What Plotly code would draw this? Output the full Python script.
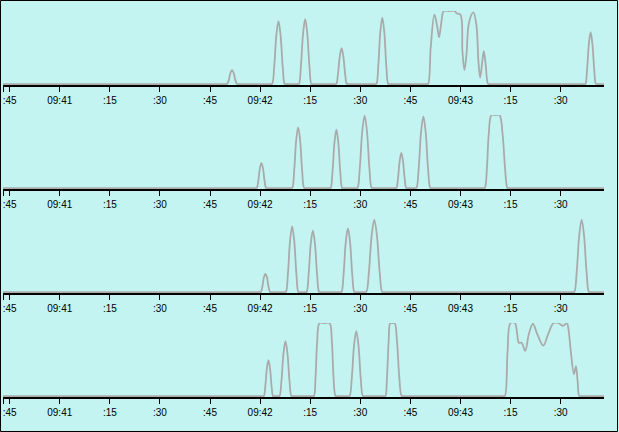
import pandas as pd
import plotly.graph_objects as go

# ---------------- data (seconds relative to 09:42:00, value in % of panel scale) ----------------
BASE = "2024-01-01 09:42:00"
range_start_s = -77
range_end_s = 103

tick_seconds = [-75, -60, -45, -30, -15, 0, 15, 30, 45, 60, 75, 90]
tick_labels = [":45", "09:41", ":15", ":30", ":45", "09:42", ":15", ":30", ":45", "09:43", ":15", ":30"]

s1_t = [-77,
        -10.4, -9.9, -9.4, -8.9, -8.4, -7.9, -7.4, -6.9, -6.4,
        3.1, 3.6, 4.23, 4.87, 5.5, 6.13, 6.77, 7.4, 7.9,
        11.1, 11.6, 12.23, 12.87, 13.5, 14.13, 14.77, 15.4, 15.9,
        22.3, 22.8, 23.33, 23.87, 24.4, 24.93, 25.47, 26.0, 26.5,
        34.3, 34.8, 35.4, 36.0, 36.6, 37.2, 37.8, 38.4, 38.9,
        49.8, 50.3, 51.1, 52.2, 53.0, 53.6, 54.3, 55.0, 56.7, 58.3, 58.8, 60.0, 60.6, 61.2, 61.8, 62.6,
        63.9, 64.8, 65.4, 65.9, 66.4, 67.0, 67.6, 68.3, 68.9,
        96.9, 97.4, 97.93, 98.47, 99.0, 99.53, 100.07, 100.6, 101.1,
        103]
s1_v = [0,
        0, 0, 5, 15, 19, 15, 5, 0, 0,
        0, 0, 24, 67, 86, 67, 24, 0, 0,
        0, 0, 25, 69, 89, 69, 25, 0, 0,
        0, 0, 14, 38, 49, 38, 14, 0, 0,
        0, 0, 25, 71, 91, 71, 25, 0, 0,
        0, 0, 50, 95, 80, 64, 85, 100, 100, 100, 97, 95, 45, 19, 40, 85,
        98, 80, 30, 9, 25, 45, 25, 0, 0,
        0, 0, 20, 55, 71, 55, 20, 0, 0,
        0]

s2_t = [-77,
        -1.5, -1.0, -0.53, -0.07, 0.4, 0.87, 1.33, 1.8, 2.3,
        9.1, 9.6, 10.2, 10.8, 11.4, 12.0, 12.6, 13.2, 13.7,
        20.6, 21.1, 21.68, 22.27, 22.85, 23.43, 24.02, 24.6, 25.1,
        28.65, 29.15, 29.87, 30.58, 31.3, 32.02, 32.73, 33.45, 33.95,
        40.3, 40.8, 41.3, 41.8, 42.3, 42.8, 43.3, 43.8, 44.3,
        46.3, 46.8, 47.5, 48.2, 48.9, 49.6, 50.3, 51.0, 51.5,
        66.8, 67.3, 67.9, 68.5, 69.3, 70.5, 71.7, 72.6, 73.4, 74.1, 74.6,
        103]
s2_v = [0,
        0, 0, 10, 27, 34, 27, 10, 0, 0,
        0, 0, 23, 65, 83, 65, 23, 0, 0,
        0, 0, 22, 62, 80, 62, 22, 0, 0,
        0, 0, 28, 77, 99, 77, 28, 0, 0,
        0, 0, 13, 37, 48, 37, 13, 0, 0,
        0, 0, 27, 76, 98, 76, 27, 0, 0,
        0, 0, 25, 75, 100, 100, 100, 75, 25, 0, 0,
        0]

s3_t = [-77,
        -0.3, 0.2, 0.67, 1.13, 1.6, 2.07, 2.53, 3.0, 3.5,
        7.2, 7.7, 8.33, 8.97, 9.6, 10.23, 10.87, 11.5, 12.0,
        13.4, 13.9, 14.53, 15.17, 15.8, 16.43, 17.07, 17.7, 18.2,
        23.85, 24.35, 25.0, 25.65, 26.3, 26.95, 27.6, 28.25, 28.75,
        31.3, 31.8, 32.6, 33.4, 34.2, 35.0, 35.8, 36.6, 37.1,
        93.6, 94.1, 94.83, 95.57, 96.3, 97.03, 97.77, 98.5, 99.0,
        103]
s3_v = [0,
        0, 0, 7, 20, 25, 20, 7, 0, 0,
        0, 0, 25, 70, 90, 70, 25, 0, 0,
        0, 0, 24, 66, 84, 66, 24, 0, 0,
        0, 0, 24, 68, 87, 68, 24, 0, 0,
        0, 0, 28, 77, 99, 77, 28, 0, 0,
        0, 0, 28, 77, 99, 77, 28, 0, 0,
        0]

s4_t = [-77,
        0.6, 1.1, 1.57, 2.03, 2.5, 2.97, 3.43, 3.9, 4.4,
        5.3, 5.8, 6.4, 7.0, 7.6, 8.2, 8.8, 9.4, 9.9,
        15.6, 16.1, 16.6, 17.1, 17.8, 19.3, 20.8, 21.5, 22.0, 22.6, 23.1,
        26.3, 26.8, 27.47, 28.13, 28.8, 29.47, 30.13, 30.8, 31.3,
        37.0, 37.5, 38.0, 38.5, 39.0, 39.65, 40.3, 41.0, 41.7, 42.4, 42.9,
        72.8, 73.3, 74.1, 75.0, 76.3, 77.0, 77.5, 78.3, 79.4, 80.5, 81.7, 83.0, 84.8, 86.3,
        87.9, 89.3, 90.7, 91.3, 91.9, 92.4, 93.0, 94.0, 94.6, 95.1, 95.6, 96.2,
        103]
s4_v = [0,
        0, 0, 14, 38, 49, 38, 14, 0, 0,
        0, 0, 21, 58, 75, 58, 21, 0, 0,
        0, 0, 25, 75, 100, 100, 100, 75, 25, 0, 0,
        0, 0, 25, 69, 89, 69, 25, 0, 0,
        0, 0, 25, 75, 100, 100, 100, 75, 25, 0, 0,
        0, 0, 60, 100, 100, 85, 73, 73, 62, 85, 99, 85, 69, 85,
        100, 100, 96, 98, 100, 90, 64, 30, 41, 20, 0, 0,
        0]

series = [(s1_t, s1_v), (s2_t, s2_v), (s3_t, s3_v), (s4_t, s4_v)]

# ---------------- layout geometry (pixels) ----------------
W, H = 619, 432
ML, MR, MT, MB = 3, 15, 11, 35
panel_tops = [11, 115, 219, 323]
panel_bottoms = [85, 189, 293, 397]
plot_h = H - MT - MB
plot_w = W - ML - MR

BG = "#c3f4f2"
LINE = "#aaaaaa"

base = pd.Timestamp(BASE)
def to_time(secs):
    return [base + pd.Timedelta(seconds=s) for s in secs]

fig = go.Figure()
layout = dict(
    width=W, height=H,
    margin=dict(l=ML, r=MR, t=MT, b=MB, autoexpand=False),
    paper_bgcolor=BG, plot_bgcolor=BG,
    showlegend=False,
    font=dict(family="Liberation Sans, Arial, sans-serif", size=10, color="black"),
)

for i, (ts, vs) in enumerate(series):
    n = "" if i == 0 else str(i + 1)
    fig.add_trace(go.Scatter(
        x=to_time(ts), y=vs, mode="lines",
        line=dict(color=LINE, width=1.8, shape="spline", smoothing=1.0),
        xaxis="x" + n, yaxis="y" + n, hoverinfo="skip",
    ))
    d0 = (H - MB - panel_bottoms[i]) / plot_h
    d1 = (H - MB - panel_tops[i]) / plot_h
    layout["xaxis" + n] = dict(
        domain=[0, 1], anchor="y" + n,
        range=[base + pd.Timedelta(seconds=range_start_s), base + pd.Timedelta(seconds=range_end_s)],
        tickmode="array",
        tickvals=to_time([range_start_s] + tick_seconds),
        ticktext=[""] + tick_labels,
        showline=True, linecolor="black", linewidth=1.5,
        ticks="outside", ticklen=5, tickwidth=1, tickcolor="black",
        showgrid=False, zeroline=False, fixedrange=True,
        tickfont=dict(size=10, color="black"),
    )
    layout["yaxis" + n] = dict(
        domain=[d0, d1], anchor="x" + n, range=[-1.3, 100],
        visible=False, fixedrange=True,
    )

fig.update_layout(**layout)

# outer frame
fig.add_shape(type="rect", xref="paper", yref="paper",
              x0=(0.5 - ML) / plot_w, x1=(W - 1.5 - ML) / plot_w,
              y0=(H - MB - (H - 0.5)) / plot_h, y1=(H - MB - 0.5) / plot_h,
              line=dict(color="black", width=1), fillcolor="rgba(0,0,0,0)", layer="above")

fig.write_html("out.html", config={"displayModeBar": False},
               post_script="document.body.style.margin='0';document.body.style.overflow='hidden';")
